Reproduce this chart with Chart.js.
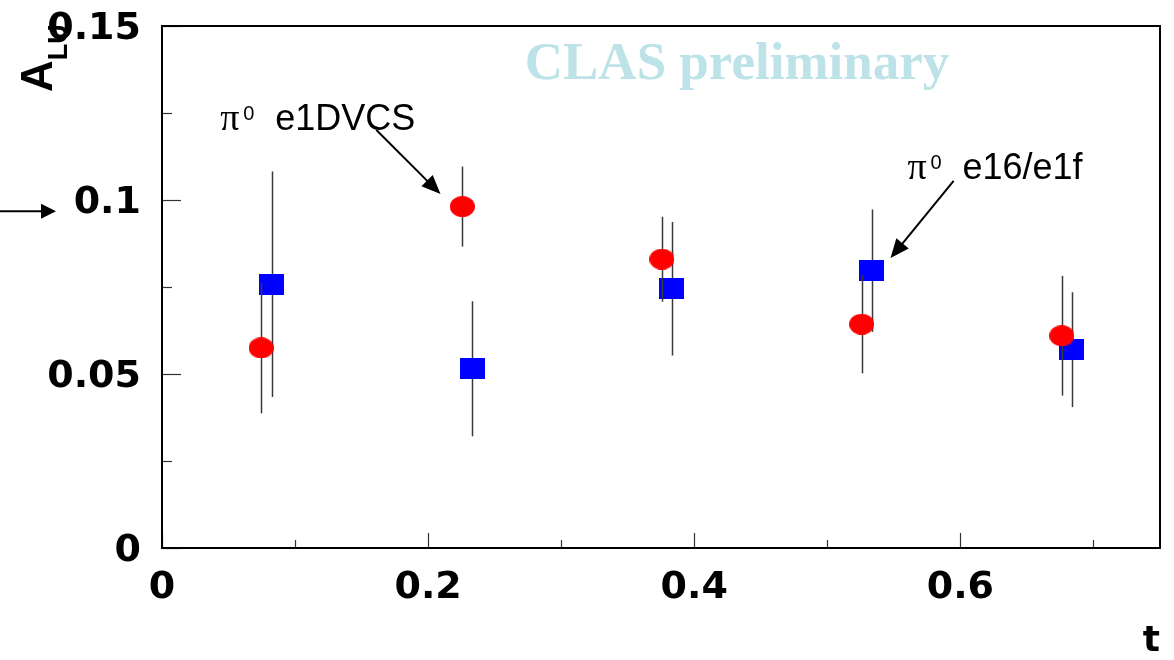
<!DOCTYPE html>
<html>
<head>
<meta charset="utf-8">
<script src="https://cdn.jsdelivr.net/npm/chart.js@4.4.1/dist/chart.umd.min.js"></script>
<style>
  html, body { margin: 0; padding: 0; background: #fff; }
  #wrap { width: 1174px; height: 660px; }
</style>
</head>
<body>
<div id="wrap"><canvas id="grafico" width="1174" height="660"></canvas></div>
<script>
// A_LU do pi0 em funcao de t, dois periodos de dados
const tE1dvcs = [0.0745, 0.2257, 0.3757, 0.5258, 0.6762];
const aluE1dvcs = [0.0575, 0.0981, 0.0830, 0.0643, 0.0610];
const errE1dvcs = [0.0188, 0.0115, 0.0122, 0.0141, 0.0172];

const tE16 = [0.0826, 0.2332, 0.3830, 0.5334, 0.6837];
const aluE16 = [0.0758, 0.0515, 0.0745, 0.0797, 0.0570];
const errE16 = [0.0324, 0.0194, 0.0192, 0.0176, 0.0165];

// eixos
const xTicks = [0, 0.2, 0.4, 0.6];
const xTickLabels = ["0", "0.2", "0.4", "0.6"];
const xMinor = [0.1, 0.3, 0.5, 0.7];
const yTicks = [0, 0.05, 0.1, 0.15];
const yTickLabels = ["0", "0.05", "0.1", "0.15"];
const yMinor = [0.025, 0.075, 0.125];

const FONTE_EIXO = { family: "DejaVu Sans", weight: "bold", size: 38 };

// marcadores: elipse vermelha e retangulo azul
function marcador(forma, cor, w, h) {
  const c = document.createElement("canvas");
  c.width = w;
  c.height = h;
  const g = c.getContext("2d");
  g.fillStyle = cor;
  if (forma === "elipse") {
    g.beginPath();
    g.ellipse(w / 2, h / 2, w / 2, h / 2, 0, 0, Math.PI * 2);
    g.fill();
  } else {
    g.fillRect(0, 0, w, h);
  }
  return c;
}

function seta(ctx, x1, y1, x2, y2, comp, meia) {
  const ang = Math.atan2(y2 - y1, x2 - x1);
  ctx.beginPath();
  ctx.moveTo(x1, y1);
  ctx.lineTo(x2 - Math.cos(ang) * comp * 0.8, y2 - Math.sin(ang) * comp * 0.8);
  ctx.stroke();
  ctx.beginPath();
  ctx.moveTo(x2, y2);
  ctx.lineTo(x2 - Math.cos(ang) * comp - Math.sin(ang) * meia, y2 - Math.sin(ang) * comp + Math.cos(ang) * meia);
  ctx.lineTo(x2 - Math.cos(ang) * comp + Math.sin(ang) * meia, y2 - Math.sin(ang) * comp - Math.cos(ang) * meia);
  ctx.closePath();
  ctx.fill();
}

// "pi0  nome" com o zero em expoente
function rotulo(ctx, x, base, nome) {
  ctx.fillStyle = "#000";
  ctx.textAlign = "left";
  ctx.textBaseline = "alphabetic";
  ctx.font = "38px 'Liberation Serif'";
  ctx.fillText("\u03c0", x, base);
  ctx.font = "20px 'Liberation Sans'";
  ctx.fillText("0", x + 23, base - 10);
  ctx.font = "36px 'Liberation Sans'";
  ctx.fillText(nome, x + 55, base);
}

const barrasErro = {
  id: "barrasErro",
  beforeDatasetDraw(chart, args) {
    const ds = chart.data.datasets[args.index];
    const { ctx, scales: { x, y } } = chart;
    ctx.save();
    ctx.strokeStyle = "#3a3a3a";
    ctx.lineWidth = 1.5;
    ds.data.forEach((p, i) => {
      const px = Math.round(x.getPixelForValue(p.x)) + 0.5;
      ctx.beginPath();
      ctx.moveTo(px, y.getPixelForValue(p.y + ds.erros[i]));
      ctx.lineTo(px, y.getPixelForValue(p.y - ds.erros[i]));
      ctx.stroke();
    });
    ctx.restore();
  }
};

const moldura = {
  id: "moldura",
  beforeDatasetsDraw(chart) {
    const { ctx, scales: { x, y } } = chart;
    ctx.save();
    ctx.fillStyle = "#bde3e8";
    ctx.font = "bold 53px 'Liberation Serif'";
    ctx.textBaseline = "alphabetic";
    ctx.fillText("CLAS preliminary", x.getPixelForValue(0.2726), y.getPixelForValue(0.1348));
    ctx.restore();
  },
  afterDraw(chart) {
    const { ctx, chartArea: a, scales: { x, y } } = chart;
    ctx.save();

    // marcas internas dos eixos
    ctx.strokeStyle = "#333";
    ctx.lineWidth = 1.2;
    const marcaX = (v, len) => {
      const px = Math.round(x.getPixelForValue(v)) + 0.5;
      ctx.beginPath(); ctx.moveTo(px, a.bottom); ctx.lineTo(px, a.bottom - len); ctx.stroke();
    };
    const marcaY = (v, len) => {
      const py = Math.round(y.getPixelForValue(v)) + 0.5;
      ctx.beginPath(); ctx.moveTo(a.left, py); ctx.lineTo(a.left + len, py); ctx.stroke();
    };
    xTicks.forEach(v => marcaX(v, 15));
    xMinor.forEach(v => marcaX(v, 8));
    yTicks.forEach(v => marcaY(v, 19));
    yMinor.forEach(v => marcaY(v, 10));

    // caixa
    ctx.strokeStyle = "#000";
    ctx.lineWidth = 2;
    ctx.strokeRect(a.left, a.top, a.right - a.left, a.bottom - a.top);

    // titulo do eixo y: A com indice LU
    ctx.save();
    ctx.translate(52, 92);
    ctx.rotate(-Math.PI / 2);
    ctx.fillStyle = "#000";
    ctx.textBaseline = "alphabetic";
    ctx.textAlign = "left";
    ctx.font = "bold 44px 'Liberation Sans'";
    ctx.fillText("A", 0, 0);
    const wA = ctx.measureText("A").width;
    ctx.font = "bold 27px 'Liberation Sans'";
    ctx.fillText("LU", wA, 15);
    ctx.restore();

    // seta a esquerda do 0.1
    ctx.fillStyle = "#000";
    ctx.strokeStyle = "#000";
    ctx.lineWidth = 2;
    const ySeta = y.getPixelForValue(0.0968);
    seta(ctx, 0, ySeta, 56, ySeta, 15, 7.5);

    // rotulos e setas das duas series
    rotulo(ctx, x.getPixelForValue(0.0437), y.getPixelForValue(0.1201), "e1DVCS");
    rotulo(ctx, x.getPixelForValue(0.5602), y.getPixelForValue(0.1060), "e16/e1f");
    ctx.lineWidth = 2;
    seta(ctx, x.getPixelForValue(0.1611), y.getPixelForValue(0.1201),
         x.getPixelForValue(0.2093), y.getPixelForValue(0.1017), 19, 8);
    seta(ctx, x.getPixelForValue(0.5949), y.getPixelForValue(0.1055),
         x.getPixelForValue(0.5475), y.getPixelForValue(0.0833), 19, 8);

    ctx.restore();
  }
};

const ctx = document.getElementById("grafico").getContext("2d");

const chart = new Chart(ctx, {
  type: "scatter",
  data: {
    datasets: [
      {
        label: "\u03c0\u2070 e1DVCS",
        data: tE1dvcs.map((t, i) => ({ x: t, y: aluE1dvcs[i] })),
        erros: errE1dvcs,
        pointStyle: marcador("elipse", "#ff0000", 25, 21),
        pointRadius: 12
      },
      {
        label: "\u03c0\u2070 e16/e1f",
        data: tE16.map((t, i) => ({ x: t, y: aluE16[i] })),
        erros: errE16,
        pointStyle: marcador("retangulo", "#0000ff", 25, 21),
        pointRadius: 12
      }
    ]
  },
  options: {
    responsive: false,
    animation: false,
    layout: { padding: { top: 26, right: 14, left: 0, bottom: 0 } },
    plugins: {
      legend: { display: false },
      tooltip: { enabled: false }
    },
    scales: {
      x: {
        type: "linear",
        min: 0,
        max: 0.75,
        afterBuildTicks: s => { s.ticks = xTicks.map(v => ({ value: v })); },
        afterFit: s => { s.height = 112; s.paddingLeft = 0; s.paddingRight = 0; },
        ticks: {
          callback: (v, i) => xTickLabels[i],
          font: FONTE_EIXO,
          color: "#000",
          padding: 17,
          maxRotation: 0,
          autoSkip: false
        },
        grid: { display: false, drawTicks: false },
        border: { display: false },
        title: {
          display: true,
          text: "t",
          align: "end",
          color: "#000",
          font: { family: "DejaVu Sans", weight: "bold", size: 36, lineHeight: 1 },
          padding: { top: 0, bottom: 0 }
        }
      },
      y: {
        type: "linear",
        min: 0,
        max: 0.15,
        afterBuildTicks: s => { s.ticks = yTicks.map(v => ({ value: v })); },
        afterFit: s => { s.width = 162; s.paddingTop = 0; s.paddingBottom = 0; },
        ticks: {
          callback: (v, i) => yTickLabels[i],
          font: FONTE_EIXO,
          color: "#000",
          padding: 21,
          labelOffset: 3,
          autoSkip: false
        },
        grid: { display: false, drawTicks: false },
        border: { display: false }
      }
    }
  },
  plugins: [barrasErro, moldura]
});
</script>
</body>
</html>
